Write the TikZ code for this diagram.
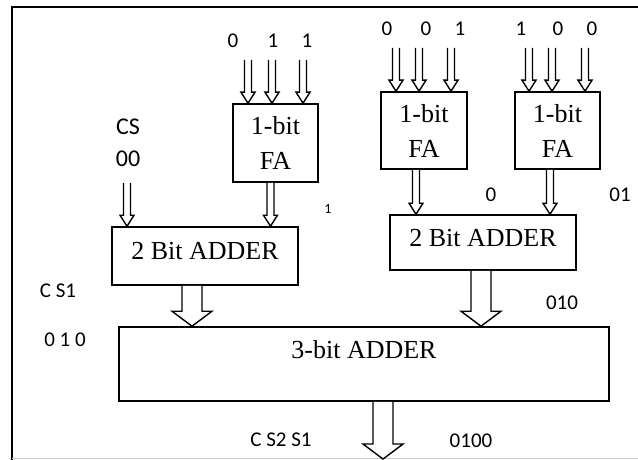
\documentclass[tikz,border=0pt]{standalone}
\usepackage{fontspec}
\setmainfont{Liberation Serif}
\newfontfamily\lblfont{Carlito}
\usetikzlibrary{calc}
\tikzset{
  box/.style={draw,line width=1.6pt,inner sep=0pt,align=center,font=\fontsize{26}{35}\selectfont},
  lab/.style={inner sep=0pt,font=\lblfont\fontsize{21}{24}\selectfont},
  hollow/.style n args={3}{line width=1.4pt,fill=white,
    to path={($(\tikztostart)+(-#1,0)$) -- ($(\tikztotarget)+(-#1,-#3)$) -- ($(\tikztotarget)+(-#2,-#3)$)
      -- (\tikztotarget) -- ($(\tikztotarget)+(#2,-#3)$) -- ($(\tikztotarget)+(#1,-#3)$) -- ($(\tikztostart)+(#1,0)$)}},
  smallarr/.style={hollow={3.5}{7}{11}},
  bigarr/.style={hollow={10}{20}{15}}
}
\begin{document}
\begin{tikzpicture}[x=1pt,y=-1pt,
      fa/.style={box,minimum width=85pt,minimum height=77pt},
      add/.style={box,minimum width=186pt,minimum height=56pt}]
    \useasboundingbox (0,0) rectangle (638,460);
    % frame
    \draw[line width=1.6pt] (12,460) -- (12,7) -- (638,7);
    \draw[black!20,line width=1pt] (12,458) -- (638,458);
    % blocks
    \node[fa,minimum height=78pt] (fa1) at (275.5,143) {1-bit\\FA};
    \node[fa,minimum width=86pt] (fa2) at (424,130.5) {1-bit\\FA};
    \node[fa] (fa3) at (557.5,130.5) {1-bit\\FA};
    \node[add,minimum height=58pt,text depth=10.6pt] (add1) at (205,256) {2 Bit ADDER};
    \node[add,minimum height=55pt,text depth=9.6pt] (add2) at (483,242.5) {2 Bit ADDER};
    \node[add,minimum width=490pt,minimum height=74pt,text depth=28.6pt] (add3) at (364,364) {3-bit ADDER};
    % input bits
    \node[lab] (a1) at (233,41) {0}; \node[lab] (b1) at (273,41) {1}; \node[lab] (c1) at (307,41) {1};
    \node[lab] (a2) at (387,29) {0}; \node[lab] (b2) at (426,29) {0}; \node[lab] (c2) at (460,29) {1};
    \node[lab] (a3) at (521,29) {1}; \node[lab] (b3) at (558,29) {0}; \node[lab] (c3) at (592,29) {0};
    \node[lab,font=\lblfont\fontsize{24}{26}\selectfont] (cs) at (128,127) {CS};
    \node[lab,font=\lblfont\fontsize{24}{26}\selectfont] (cs0) at (128,159) {00};
    % intermediate values
    \node[lab,font=\lblfont\fontsize{14}{16}\selectfont] (c12) at (328,209) {1};
    \node[lab] (s2) at (491,195) {0};
    \node[lab] (s3) at (620,195) {01};
    \node[lab] (cs1) at (58,291) {C S1};
    \node[lab] (v1) at (65,340) {0 1 0};
    \node[lab] (v2) at (562,303) {010};
    \node[lab] (cs2) at (281,440) {C S2 S1};
    \node[lab] (res) at (471,441) {0100};
    % arrow tops
    \coordinate (t1a) at (248,60); \coordinate (t1b) at (272,60); \coordinate (t1c) at (303,60);
    \coordinate (t2a) at (396,48); \coordinate (t2b) at (419,48); \coordinate (t2c) at (451,48);
    \coordinate (t3a) at (529,48); \coordinate (t3b) at (552,48); \coordinate (t3c) at (585,48);
    \coordinate (tcs) at (127,183);
    \coordinate (o1) at ($(fa1.south)+(-5,0)$);
    \coordinate (o2) at ($(fa2.south)+(-8,0)$);
    \coordinate (o3) at ($(fa3.south)+(-7.5,0)$);
    \coordinate (p1) at ($(add1.south)+(-13,0)$);
    \coordinate (p2) at ($(add2.south)+(-2,0)$);
    \coordinate (p3) at ($(add3.south)+(19,0)$);
    \coordinate (out) at (383,459);
    % arrows
    \draw[smallarr] (t1a) to (t1a |- fa1.north); \draw[smallarr] (t1b) to (t1b |- fa1.north); \draw[smallarr] (t1c) to (t1c |- fa1.north);
    \draw[smallarr] (t2a) to (t2a |- fa2.north); \draw[smallarr] (t2b) to (t2b |- fa2.north); \draw[smallarr] (t2c) to (t2c |- fa2.north);
    \draw[smallarr] (t3a) to (t3a |- fa3.north); \draw[smallarr] (t3b) to (t3b |- fa3.north); \draw[smallarr] (t3c) to (t3c |- fa3.north);
    \draw[smallarr] (tcs) to (tcs |- add1.north);
    \draw[smallarr] (o1) to (o1 |- add1.north);
    \draw[smallarr] (o2) to (o2 |- add2.north); \draw[smallarr] (o3) to (o3 |- add2.north);
    \draw[bigarr] (p1) to (p1 |- add3.north); \draw[bigarr] (p2) to (p2 |- add3.north);
    \draw[bigarr] (p3) to (out);
  \end{tikzpicture}
\end{document}
